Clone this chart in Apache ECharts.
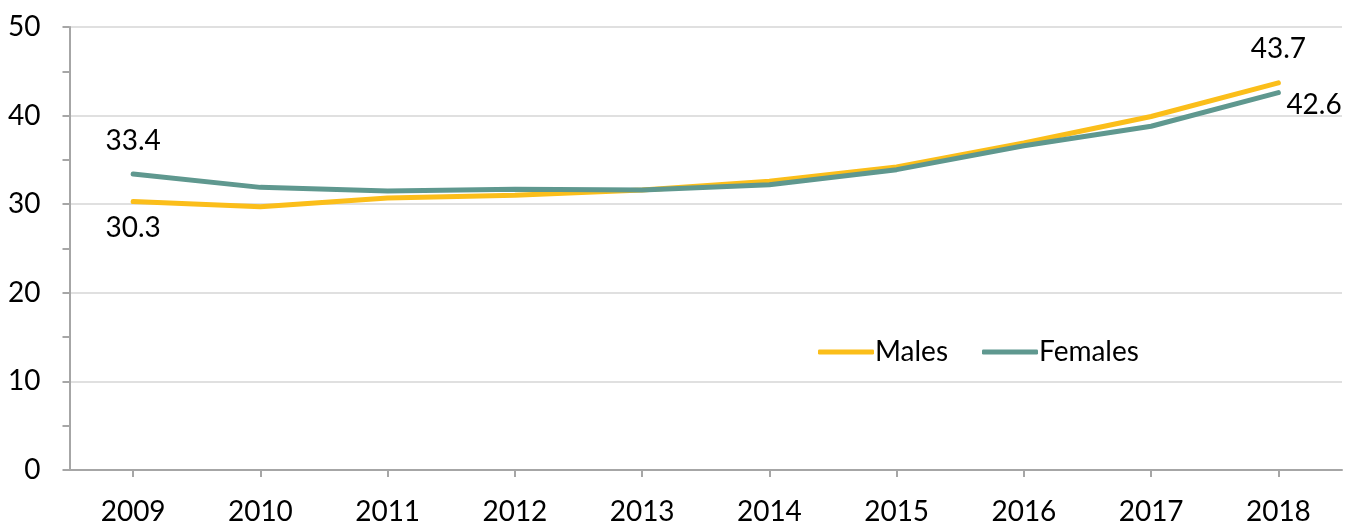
<!DOCTYPE html>
<html><head><meta charset="utf-8">
<script src="https://cdn.jsdelivr.net/npm/echarts@6/dist/echarts.min.js"></script>
<style>html,body{margin:0;padding:0;background:#fff}#c{width:1347px;height:523px}</style>
</head><body><div id="c"></div>
<script>
var categories = ['2009','2010','2011','2012','2013','2014','2015','2016','2017','2018'];
var males = [30.3, 29.7, 30.7, 31.0, 31.6, 32.6, 34.2, 36.9, 39.9, 43.7];
var females = [33.4, 31.9, 31.5, 31.7, 31.6, 32.2, 33.9, 36.6, 38.8, 42.6];
var yTicks = [0, 10, 20, 30, 40, 50];

var FONT = 'Lato';
var FS = 28;
var chart = echarts.init(document.getElementById('c'), null, {renderer: 'canvas'});

function lbl(pos, offset) {
  return {show: true, position: pos, offset: offset || [0,0], color: '#000', fontFamily: FONT, fontSize: FS,
    formatter: function(p){ return p.value.toFixed(1); }};
}

var maleData = males.map(function(v, i){
  var d = {value: v};
  if (i === 0) d.label = lbl('bottom', [0, 7]);
  else if (i === males.length - 1) d.label = lbl('top', [0, -15]);
  return d;
});
var femaleData = females.map(function(v, i){
  var d = {value: v};
  if (i === 0) d.label = lbl('top', [0, -14]);
  else if (i === females.length - 1) d.label = lbl('right', [3, 12]);
  return d;
});

chart.setOption({
  animation: false,
  grid: {left: 69.5, right: 5, top: 27, bottom: 53, containLabel: false, outerBoundsMode: 'none'},
  legend: {
    left: 813, top: 333, itemGap: 34, itemWidth: 56, itemHeight: 5,
    icon: 'roundRect',
    textStyle: {color: '#000', fontFamily: FONT, fontSize: FS, padding: [0,0,0,-4]},
    data: ['Males', 'Females']
  },
  xAxis: {
    type: 'category', data: categories, boundaryGap: true,
    axisLine: {lineStyle: {color: '#a6a6a6', width: 2}},
    axisTick: {show: true, alignWithLabel: true, length: 7, lineStyle: {color: '#a6a6a6', width: 2}},
    axisLabel: {color: '#000', fontFamily: FONT, fontSize: FS, margin: 28}
  },
  yAxis: {
    type: 'value', min: yTicks[0], max: yTicks[yTicks.length-1], interval: 10,
    axisLine: {show: true, lineStyle: {color: '#a6a6a6', width: 2}},
    axisTick: {show: true, length: 7, lineStyle: {color: '#a6a6a6', width: 2}},
    minorTick: {show: true, splitNumber: 2, length: 7, lineStyle: {color: '#a6a6a6', width: 2}},
    splitLine: {show: true, lineStyle: {color: '#e0e0e0', width: 2}},
    axisLabel: {color: '#000', fontFamily: FONT, fontSize: FS, margin: 29}
  },
  series: [
    {name: 'Males', type: 'line', data: maleData, symbol: 'circle', symbolSize: 0.01, showSymbol: true,
     lineStyle: {color: '#FBBE1A', width: 5, cap: 'round'}, itemStyle: {color: '#FBBE1A'}, z: 2},
    {name: 'Females', type: 'line', data: femaleData, symbol: 'circle', symbolSize: 0.01, showSymbol: true,
     lineStyle: {color: '#5F988F', width: 5, cap: 'round'}, itemStyle: {color: '#5F988F'}, z: 3}
  ]
});
</script></body></html>
